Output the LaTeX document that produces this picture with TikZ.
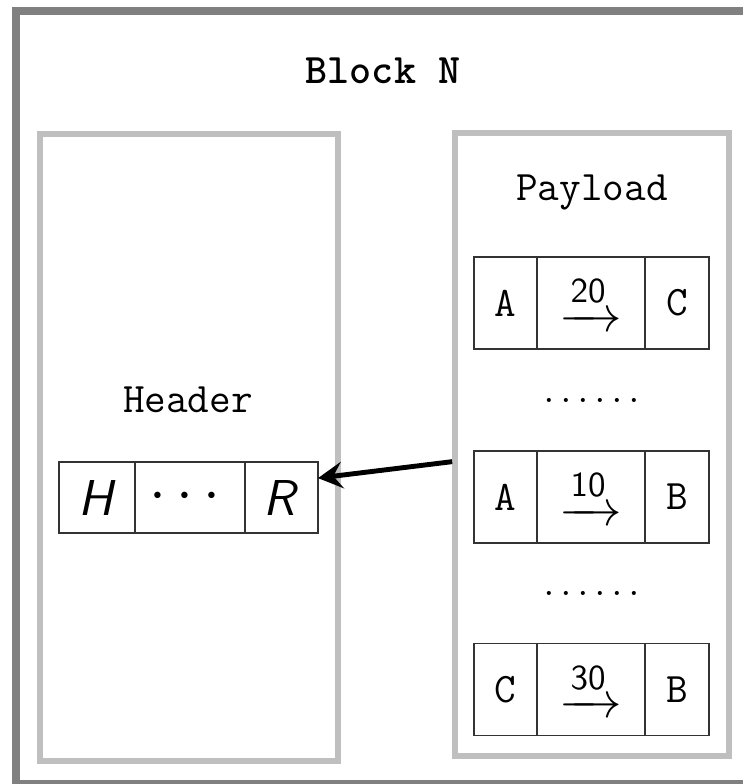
\documentclass[tikz,border=0pt,12pt]{standalone}
\usepackage{amsmath,amssymb}
\usepackage{tikz}
\usetikzlibrary{positioning,arrows.meta}

\begin{document}
\begin{tikzpicture}[x=0.2857pt,y=-0.2857pt,
    panel/.style={draw=lightgray,line width=1.6pt,inner sep=0pt},
    hcell/.style={draw=black!80,line width=0.5pt,inner sep=0pt,outer sep=0pt,minimum height=20.3pt},
    pcell/.style={draw=black!80,line width=0.5pt,inner sep=0pt,outer sep=0pt,minimum height=26.3pt,font=\ttfamily},
    gap/.style={font=\small},
    title/.style={anchor=base,font=\ttfamily}]
    \useasboundingbox (0,0) rectangle (743,784);
    \clip (0,0) rectangle (743,784);
    \draw[gray,line width=2.3pt] (16,11) rectangle (750,784);
    \node (blk) [title,font=\ttfamily\bfseries] at (383,83) {Block N};

    \node (hdr) [panel,minimum width=85.1pt,minimum height=179.1pt] at (189,447.5) {};
    \node (hdrlbl) [title] at (188,412) {Header};
    \node (hH) [hcell,minimum width=21.7pt,font=\large] at (97,497.5) {\textsf{\itshape H}};
    \node (hdots) [hcell,minimum width=31.4pt,right=0pt of hH,font=\Large] {$\cdots$};
    \node (hR) [hcell,minimum width=20.9pt,right=0pt of hdots,font=\large] {\textsf{\itshape R}};

    \node (pay) [panel,minimum width=78.3pt,minimum height=178pt] at (592,444.5) {};
    \node (paylbl) [title] at (592,200) {Payload};

    \node (t1a) [pcell,minimum width=18pt] at (505.5,303) {A};
    \node (t1w) [pcell,minimum width=30.9pt,right=0pt of t1a,font=\large] {$\xrightarrow{\mathsf{20}}$};
    \node (t1b) [pcell,minimum width=18.3pt,right=0pt of t1w] {C};
    \node (gap1) [gap] at (591.5,400) {$\ldots\ldots$};
    \node (t2a) [pcell,minimum width=18pt] at (505.5,497) {A};
    \node (t2w) [pcell,minimum width=30.9pt,right=0pt of t2a,font=\large] {$\xrightarrow{\mathsf{10}}$};
    \node (t2b) [pcell,minimum width=18.3pt,right=0pt of t2w] {B};
    \node (gap2) [gap] at (591.5,593) {$\ldots\ldots$};
    \node (t3a) [pcell,minimum width=18pt] at (505.5,689.5) {C};
    \node (t3w) [pcell,minimum width=30.9pt,right=0pt of t3a,font=\large] {$\xrightarrow{\mathsf{30}}$};
    \node (t3b) [pcell,minimum width=18.3pt,right=0pt of t3w] {B};

    \draw[-{Stealth[length=7pt,width=7.6pt,inset=2.6pt]},line width=1.4pt] ([yshift=-4.9pt]pay.west) -- ([yshift=-4.6pt]hR.north east);
  \end{tikzpicture}
\end{document}
